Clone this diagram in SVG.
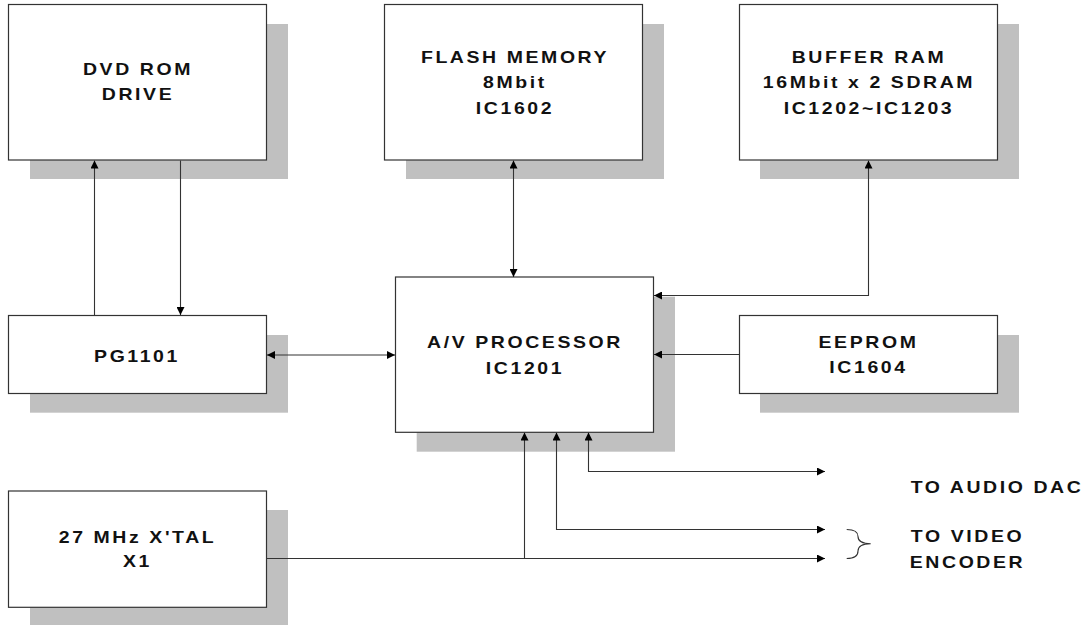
<svg xmlns="http://www.w3.org/2000/svg" width="1088" height="625" viewBox="0 0 1088 625">
<style>
.box{fill:#fff;stroke:#333;stroke-width:1.2}
.sh{fill:#c0c0c0}
.t{font-family:"Liberation Sans",Arial,sans-serif;font-weight:bold;font-size:16.5px;letter-spacing:2.2px;fill:#111;text-anchor:middle}
.ln{fill:none;stroke:#333;stroke-width:1.1}
</style>
<defs>
<marker id="ah" viewBox="0 0 8 8" refX="8" refY="4" markerWidth="8" markerHeight="8" markerUnits="userSpaceOnUse" orient="auto-start-reverse">
<path d="M0,0 L8,4 L0,8 z" fill="#000"/>
</marker>
</defs>
<rect width="1088" height="625" fill="#fff"/>
<g id="dvd">
<rect class="sh" x="30" y="24" width="258" height="155"/>
<rect class="box" x="8.5" y="4.5" width="258" height="155.5"/>
<text class="t" transform="matrix(1.18 0 0 1 138 75)">DVD ROM</text>
<text class="t" transform="matrix(1.18 0 0 1 138 100)">DRIVE</text>
</g>
<g id="flash">
<rect class="sh" x="406" y="24" width="258" height="155"/>
<rect class="box" x="384.5" y="4.5" width="258" height="155.5"/>
<text class="t" transform="matrix(1.18 0 0 1 515 62.7)">FLASH MEMORY</text>
<text class="t" transform="matrix(1.18 0 0 1 515 88.3)">8Mbit</text>
<text class="t" transform="matrix(1.18 0 0 1 515 114)">IC1602</text>
</g>
<g id="buffer">
<rect class="sh" x="760" y="24" width="259" height="155"/>
<rect class="box" x="739.5" y="4.5" width="258" height="155.5"/>
<text class="t" transform="matrix(1.18 0 0 1 869 62.7)">BUFFER RAM</text>
<text class="t" transform="matrix(1.18 0 0 1 869 88.3)">16Mbit x 2 SDRAM</text>
<text class="t" transform="matrix(1.18 0 0 1 869 114)">IC1202~IC1203</text>
</g>
<g id="pg1101">
<rect class="sh" x="30" y="335" width="258" height="77.7"/>
<rect class="box" x="8.5" y="315.5" width="258" height="78"/>
<text class="t" transform="matrix(1.18 0 0 1 137 361.7)">PG1101</text>
</g>
<g id="avproc">
<rect class="sh" x="416.7" y="296.7" width="258.3" height="155"/>
<rect class="box" x="395.5" y="277" width="258" height="155.3"/>
<text class="t" transform="matrix(1.18 0 0 1 525 348.3)">A/V PROCESSOR</text>
<text class="t" transform="matrix(1.18 0 0 1 525 374)">IC1201</text>
</g>
<g id="eeprom">
<rect class="sh" x="760" y="335" width="259" height="77.7"/>
<rect class="box" x="739.5" y="315.5" width="258" height="78"/>
<text class="t" transform="matrix(1.18 0 0 1 868.5 347.7)">EEPROM</text>
<text class="t" transform="matrix(1.18 0 0 1 868.5 373.3)">IC1604</text>
</g>
<g id="xtal">
<rect class="sh" x="30" y="510" width="258" height="115"/>
<rect class="box" x="8.5" y="491" width="258" height="116.3"/>
<text class="t" transform="matrix(1.18 0 0 1 137.5 542.7)">27 MHz X'TAL</text>
<text class="t" transform="matrix(1.18 0 0 1 137.5 567.3)">X1</text>
</g>
<g id="outputs">
<text class="t" transform="matrix(1.18 0 0 1 997 493.3)">TO AUDIO DAC</text>
<text class="t" transform="matrix(1.18 0 0 1 967.5 541.7)">TO VIDEO</text>
<text class="t" transform="matrix(1.18 0 0 1 967.5 567.7)">ENCODER</text>
</g>
<g id="connectors">
<line class="ln" x1="94.5" y1="315" x2="94.5" y2="160.5" marker-end="url(#ah)"/>
<line class="ln" x1="180.5" y1="160.5" x2="180.5" y2="315" marker-end="url(#ah)"/>
<line class="ln" x1="513.5" y1="160.5" x2="513.5" y2="277" marker-start="url(#ah)" marker-end="url(#ah)"/>
<polyline class="ln" points="654,295.5 868.5,295.5 868.5,160.5" marker-start="url(#ah)" marker-end="url(#ah)"/>
<line class="ln" x1="267" y1="355" x2="395" y2="355" marker-start="url(#ah)" marker-end="url(#ah)"/>
<line class="ln" x1="739" y1="354.5" x2="654" y2="354.5" marker-end="url(#ah)"/>
<line class="ln" x1="267" y1="558.5" x2="825" y2="558.5" marker-end="url(#ah)"/>
<line class="ln" x1="524.5" y1="558.5" x2="524.5" y2="432.5" marker-end="url(#ah)"/>
<polyline class="ln" points="556.5,432.5 556.5,529.5 825,529.5" marker-start="url(#ah)" marker-end="url(#ah)"/>
<polyline class="ln" points="588.5,432.5 588.5,471.5 825,471.5" marker-start="url(#ah)" marker-end="url(#ah)"/>
<path class="ln" d="M846.7,529.5 Q858,529.5 858,536.5 Q858,543.7 870.7,543.7 Q858,543.7 858,551 Q858,558.5 846.7,558.5" stroke="#555"/>
</g>
</svg>
